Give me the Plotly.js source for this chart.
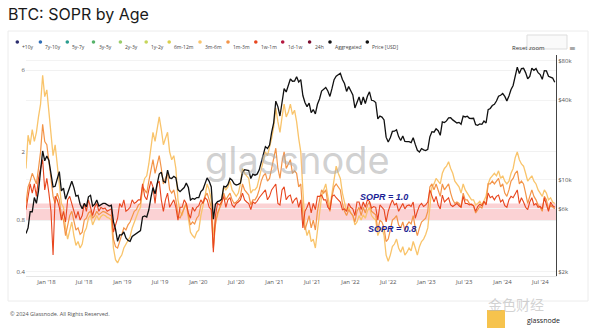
<!DOCTYPE html>
<html><head><meta charset="utf-8">
<script src="https://cdn.plot.ly/plotly-3.0.1.min.js"></script>
<style>html,body{margin:0;padding:0;background:#fff;}#chart{width:600px;height:332px;}</style>
</head><body><div id="chart"></div>
<script>
// ---- data ----
const startDate = '2017-09-25';
const stepDays = 10;
const priceUSD = [3900,4300,5700,5700,7300,6600,8200,11300,16500,13900,
15100,14000,10900,8800,8900,10000,11500,8200,8600,7100,
7900,8900,9700,8700,7500,7600,6500,6000,6600,6200,
7400,7600,6300,6500,7000,6300,6500,6600,6600,6400,
6300,6400,4800,4200,3400,3800,3800,4000,3600,3450,
3400,3700,3800,3900,4000,4100,5200,5300,5200,5900,
7300,8700,7800,9300,11000,11400,9700,9500,11800,10300,
10200,10600,10300,8400,8100,8400,8700,9400,8700,7000,
7200,7100,7300,7300,8100,8400,9400,10300,9700,8800,
5000,6500,6800,6900,7100,8900,8800,9200,10200,9900,
9300,9100,9200,9400,11300,11900,11800,11700,10200,11000,
10800,11000,11800,13500,15500,17800,17200,18300,22800,27100,
39400,35800,30400,39200,49100,46300,52300,58100,55800,56000,
60400,55000,57400,43500,38500,35800,38100,32200,34000,31500,
37300,40900,47000,48900,50000,47100,42800,49200,57400,61000,
62900,64200,57600,53600,46700,50800,47300,43900,35000,38700,
42400,37000,42400,37800,42900,46400,40000,39700,38500,28900,
30300,29800,28400,21000,19300,20800,23200,23300,23900,21200,
19800,21400,19500,19400,19400,19100,20800,18500,16700,16200,
17200,16800,16600,16950,21100,23100,22900,24300,23500,21700,
27400,27100,27900,29400,29500,28400,27400,26900,27200,26300,
30300,29900,30300,29200,29100,29200,26100,25800,26500,26300,
27800,26900,33900,34700,36500,37300,39500,42900,43700,45000,
42800,39600,43100,48300,51800,62000,71500,63800,69700,70000,
64900,58300,60800,70100,67500,69600,64800,62700,57700,67100,
66800,60900,59500,59000,54800];
const sopr3m6m = [1.6,2.5,2.2,2.7,2.3,2.6,3.2,3.8,5.6,4.2,
4.6,3.5,2.6,1.9,2.2,1.7,1.4,1.0,0.95,0.72,
0.62,0.7,0.78,0.65,0.57,0.6,0.55,0.58,0.68,0.72,
0.82,0.86,0.75,0.8,0.85,0.8,0.84,0.86,0.85,0.83,
0.82,0.8,0.55,0.47,0.45,0.48,0.5,0.55,0.58,0.6,
0.64,0.72,0.78,0.82,0.9,0.95,1.25,1.4,1.45,1.7,
2.1,2.6,2.3,2.8,3.2,2.7,2.2,2.4,2.6,2.0,
1.8,1.9,1.6,1.05,0.9,0.85,0.95,1.0,0.8,0.68,
0.65,0.63,0.68,0.7,0.85,0.95,1.1,1.3,1.2,1.05,
0.65,0.8,0.85,0.95,1.05,1.25,1.2,1.25,1.35,1.2,
1.15,1.1,1.15,1.3,1.6,1.5,1.45,1.4,1.15,1.2,
1.2,1.25,1.4,1.6,1.8,2.0,1.9,2.1,2.4,2.8,
3.6,3.0,2.6,3.2,3.8,3.2,3.4,3.8,3.3,3.5,
3.0,2.4,2.0,1.2,0.75,0.65,0.7,0.6,0.62,0.55,
0.68,0.85,1.1,1.2,1.3,1.1,0.95,1.15,1.4,1.65,
1.5,1.4,1.15,1.0,0.9,0.95,0.88,0.85,0.75,0.78,
0.85,0.8,0.86,0.82,0.9,0.95,0.85,0.82,0.8,0.65,
0.7,0.72,0.65,0.5,0.46,0.5,0.56,0.58,0.62,0.55,
0.52,0.56,0.5,0.52,0.55,0.53,0.6,0.55,0.5,0.56,
0.6,0.62,0.66,0.72,1.0,1.25,1.3,1.4,1.35,1.3,
1.5,1.6,1.65,1.75,1.6,1.5,1.35,1.3,1.25,1.15,
1.3,1.2,1.15,1.1,1.05,1.05,0.98,1.0,1.03,0.98,
1.05,1.1,1.3,1.4,1.45,1.5,1.45,1.55,1.4,1.45,
1.35,1.3,1.35,1.5,1.6,1.85,2.0,1.8,1.7,1.65,
1.5,1.35,1.4,1.45,1.35,1.3,1.2,1.15,1.1,1.2,
1.15,1.05,1.08,1.02,1.0];
const sopr1m3m = [1.0,1.25,1.35,1.5,1.4,1.3,1.6,2.0,2.9,2.3,
2.2,1.8,1.4,1.1,1.0,1.15,1.05,0.85,0.8,0.65,
0.75,0.85,0.9,0.78,0.7,0.72,0.66,0.68,0.8,0.82,
0.88,0.9,0.82,0.85,0.9,0.86,0.88,0.9,0.89,0.87,
0.86,0.85,0.62,0.56,0.55,0.6,0.66,0.72,0.7,0.75,
0.78,0.85,0.9,0.92,0.98,1.0,1.25,1.2,1.15,1.35,
1.6,1.8,1.5,1.7,1.9,1.6,1.3,1.4,1.5,1.2,
1.15,1.2,1.05,0.85,0.82,0.88,0.95,1.0,0.85,0.75,
0.78,0.76,0.82,0.85,0.98,1.02,1.1,1.15,1.05,0.95,
0.55,0.75,0.88,0.95,1.0,1.15,1.05,1.1,1.15,1.05,
1.0,1.02,1.05,1.1,1.3,1.2,1.15,1.12,0.98,1.05,
1.05,1.1,1.2,1.35,1.45,1.5,1.35,1.4,1.6,1.85,
2.1,1.6,1.4,1.75,2.0,1.6,1.7,1.8,1.5,1.55,
1.5,1.25,1.3,0.85,0.7,0.78,0.85,0.72,0.8,0.7,
0.9,1.05,1.2,1.15,1.2,1.0,0.9,1.1,1.25,1.3,
1.25,1.2,1.0,0.9,0.85,0.92,0.88,0.85,0.78,0.9,
0.95,0.85,0.95,0.88,0.98,1.02,0.9,0.88,0.86,0.7,
0.8,0.78,0.72,0.6,0.62,0.7,0.8,0.82,0.85,0.75,
0.72,0.78,0.7,0.75,0.78,0.76,0.85,0.72,0.65,0.72,
0.78,0.8,0.82,0.9,1.25,1.3,1.2,1.3,1.2,1.1,
1.3,1.2,1.25,1.3,1.15,1.05,1.0,1.02,1.0,0.95,
1.15,1.05,1.05,1.0,0.98,0.97,0.88,0.92,0.96,0.94,
1.02,1.0,1.3,1.3,1.35,1.3,1.35,1.4,1.25,1.3,
1.15,1.1,1.2,1.35,1.4,1.5,1.55,1.3,1.35,1.3,
1.15,1.0,1.1,1.2,1.1,1.05,0.98,0.95,0.9,1.1,
1.05,0.92,0.98,0.95,0.93];
const sopr1w1m = [0.92,1.1,1.3,1.15,1.3,1.1,1.4,1.6,1.8,1.2,
1.4,1.15,0.9,0.5,1.1,1.05,0.95,0.8,0.9,0.78,
1.05,1.1,1.0,0.88,0.82,0.9,0.8,0.85,1.0,0.9,
1.05,0.95,0.85,0.95,1.0,0.9,0.95,0.93,0.94,0.9,
0.92,0.93,0.68,0.75,0.82,1.0,0.95,1.05,0.9,0.92,
0.95,1.05,1.0,1.02,1.05,1.05,1.3,1.1,1.05,1.2,
1.35,1.25,1.0,1.3,1.35,1.05,0.9,1.05,1.15,0.95,
1.0,1.05,0.95,0.8,0.95,0.95,1.05,1.0,0.88,0.82,
0.95,0.9,0.95,0.97,1.05,1.0,1.08,1.05,0.95,0.92,
0.52,0.85,1.0,0.98,1.02,1.1,0.95,1.05,1.08,0.98,
0.95,1.0,1.02,1.05,1.15,1.05,1.02,1.0,0.92,1.02,
1.0,1.03,1.08,1.12,1.15,1.2,1.05,1.1,1.2,1.25,
1.3,1.0,0.98,1.2,1.25,1.05,1.1,1.12,1.0,1.05,
1.08,0.95,1.05,0.72,0.9,0.95,1.02,0.88,1.0,0.92,
1.1,1.1,1.12,1.05,1.05,0.95,0.92,1.1,1.12,1.08,
1.05,1.02,0.92,0.93,0.9,1.0,0.95,0.93,0.85,1.02,
1.02,0.92,1.02,0.95,1.05,1.03,0.94,0.96,0.95,0.8,
0.98,0.95,0.92,0.78,0.9,0.98,1.05,0.98,1.0,0.9,
0.95,1.0,0.93,0.97,0.98,0.96,1.02,0.82,0.9,0.97,
1.0,0.96,0.98,1.02,1.2,1.1,1.02,1.1,0.98,0.93,
1.12,1.02,1.05,1.08,0.98,0.96,0.98,1.0,0.97,0.95,
1.1,1.0,1.0,0.98,0.99,0.97,0.9,0.96,0.99,0.97,
1.03,0.98,1.15,1.08,1.1,1.05,1.1,1.12,1.02,1.05,
0.97,0.95,1.05,1.1,1.08,1.15,1.2,1.0,1.08,1.02,
0.95,0.92,1.02,1.08,0.98,1.0,0.95,0.96,0.93,1.08,
1.0,0.9,1.02,0.97,0.95];
const legendLabels = ['+10y','7y-10y','5y-7y','3y-5y','2y-3y','1y-2y','6m-12m','3m-6m','1m-3m','1w-1m','1d-1w','24h','Aggregated','Price [USD]'];
const legendColors = ['#2b2d6e','#2f6db5','#2a9d8f','#57b36a','#9acd6a','#c6d65a','#d9cf4a','#f9c46b','#f39448','#e8461e','#b5173f','#7a0d2e','#111111','#111111'];
const soprTicks = [0.4, 0.8, 2, 6];
const priceTicks = [2000, 6000, 10000, 40000, 80000];
const priceTickText = ['$2k','$6k','$10k','$40k','$80k'];
const bandLow = 0.8, bandHigh = 1.0;

// ---- build ----
const dates = [];
const t0 = Date.parse(startDate + 'T00:00:00Z');
for (let i = 0; i < priceUSD.length; i++) dates.push(new Date(t0 + i*stepDays*864e5).toISOString().slice(0,10));

const traces = [
  {x: dates, y: sopr3m6m, type:'scatter', mode:'lines', line:{color:'#f9c46b', width:1.3}, yaxis:'y', showlegend:false},
  {x: dates, y: sopr1m3m, type:'scatter', mode:'lines', line:{color:'#f39448', width:1.2}, yaxis:'y', showlegend:false},
  {x: dates, y: sopr1w1m, type:'scatter', mode:'lines', line:{color:'#e8461e', width:1.1}, yaxis:'y', showlegend:false},
  {x: dates, y: priceUSD, type:'scatter', mode:'lines', line:{color:'#111111', width:1.3}, yaxis:'y2', showlegend:false}
];

const L=26, R=556, T=55, B=276;
const px = x => (x-L)/(R-L);
const py = y => (B-y)/(B-T);

const shapes = [
  {type:'rect', xref:'paper', yref:'y', x0:0, x1:1, y0:bandLow, y1:bandHigh, fillcolor:'rgba(248,165,170,0.5)', line:{width:0}, layer:'below'},
  {type:'rect', xref:'paper', yref:'paper', x0:px(8), x1:px(588), y0:py(301), y1:py(31), line:{color:'#ececec', width:1}, fillcolor:'rgba(0,0,0,0)', layer:'below'},
  {type:'rect', xref:'paper', yref:'paper', x0:px(527), x1:px(567), y0:py(49), y1:py(35), line:{color:'#dddddd', width:1}, fillcolor:'#fafafa', layer:'below'},
  {type:'rect', xref:'paper', yref:'paper', x0:px(487), x1:px(505), y0:py(328), y1:py(310), line:{width:0}, fillcolor:'#f5b82e', opacity:0.85, layer:'below'}
];
const annotations = [
  {text:'SOPR = 1.0', xref:'paper', yref:'paper', x:px(410), y:py(197), showarrow:false, font:{family:'Liberation Sans, Arial', size:9, color:'#1b1f96', weight:700, style:'italic'}},
  {text:'SOPR = 0.8', xref:'paper', yref:'paper', x:px(418), y:py(236), showarrow:false, font:{family:'Liberation Sans, Arial', size:9, color:'#1b1f96', weight:700, style:'italic'}},
  {text:'glassnode', xref:'paper', yref:'paper', x:px(297), y:py(160), showarrow:false, font:{family:'Inter, Open Sans', size:38, color:'rgba(170,170,170,0.55)'}},
  {text:'© 2024 Glassnode. All Rights Reserved.', xref:'paper', yref:'paper', x:px(8), y:py(320), xanchor:'left', showarrow:false, font:{family:'Open Sans', size:5.5, color:'#555'}},
  {text:'Reset zoom', xref:'paper', yref:'paper', x:px(547), y:py(42), showarrow:false, font:{family:'Open Sans', size:6, color:'#333'}},
  {text:'≡', xref:'paper', yref:'paper', x:px(578), y:py(42), showarrow:false, font:{family:'DejaVu Sans', size:8, color:'#666'}},
  {text:'金色财经', xref:'paper', yref:'paper', x:px(546), y:py(316), showarrow:false, font:{family:'Noto Sans CJK SC', size:14, color:'rgba(180,180,180,0.6)'}},
  {text:'glassnode', xref:'paper', yref:'paper', x:px(562), y:py(327), showarrow:false, font:{family:'Open Sans', size:7, color:'#222'}}
];
const dotX = [17.3,40.4,67.3,93.5,120.4,146.2,169.2,200,228,255.8,282.7,309.6,330,367.3];
legendLabels.forEach((lab, k) => {
  shapes.push({type:'circle', xref:'paper', yref:'paper', xsizemode:'pixel', ysizemode:'pixel', xanchor:px(dotX[k]), yanchor:py(42), x0:-1.8, x1:1.8, y0:-1.8, y1:1.8, fillcolor:legendColors[k], line:{width:0}});
  annotations.push({text:lab, xref:'paper', yref:'paper', x:px(dotX[k]+3), y:py(42), xanchor:'left', showarrow:false, font:{family:'Open Sans', size:5, color:'#444'}});
});

const layout = {
  width:600, height:332,
  margin:{l:L, r:600-R, t:T, b:332-B, pad:0},
  paper_bgcolor:'#ffffff', plot_bgcolor:'rgba(0,0,0,0)',
  title:{text:'BTC: SOPR by Age', xref:'container', yref:'container', x:8/600, xanchor:'left', y:1-14/332, yanchor:'middle', font:{family:'Inter, Open Sans', size:16, color:'#1a1a1a'}},
  showlegend:false,
  xaxis:{type:'date', range:['2017-09-25','2024-09-14'], tickformat:"%b '%y", dtick:'M6', tick0:'2018-01-01', showgrid:false, showline:true, linecolor:'#e4e4e4', ticks:'', tickfont:{family:'Open Sans', size:6, color:'#555'}, zeroline:false},
  yaxis:{type:'log', range:[-0.423,0.866], tickvals:soprTicks, ticktext:soprTicks.map(String), showgrid:true, gridcolor:'#f1f1f1', zeroline:false, ticks:'', tickfont:{family:'Open Sans', size:6, color:'#555'}},
  yaxis2:{type:'log', overlaying:'y', side:'right', range:[3.268,4.946], tickvals:priceTicks, ticktext:priceTickText, showgrid:true, gridcolor:'#f3f3f3', showline:true, linecolor:'#444', linewidth:1, ticks:'', tickfont:{family:'Open Sans', size:6, color:'#555'}, zeroline:false},
  shapes:shapes, annotations:annotations
};
Plotly.newPlot('chart', traces, layout, {displayModeBar:false, staticPlot:true});
</script></body></html>
